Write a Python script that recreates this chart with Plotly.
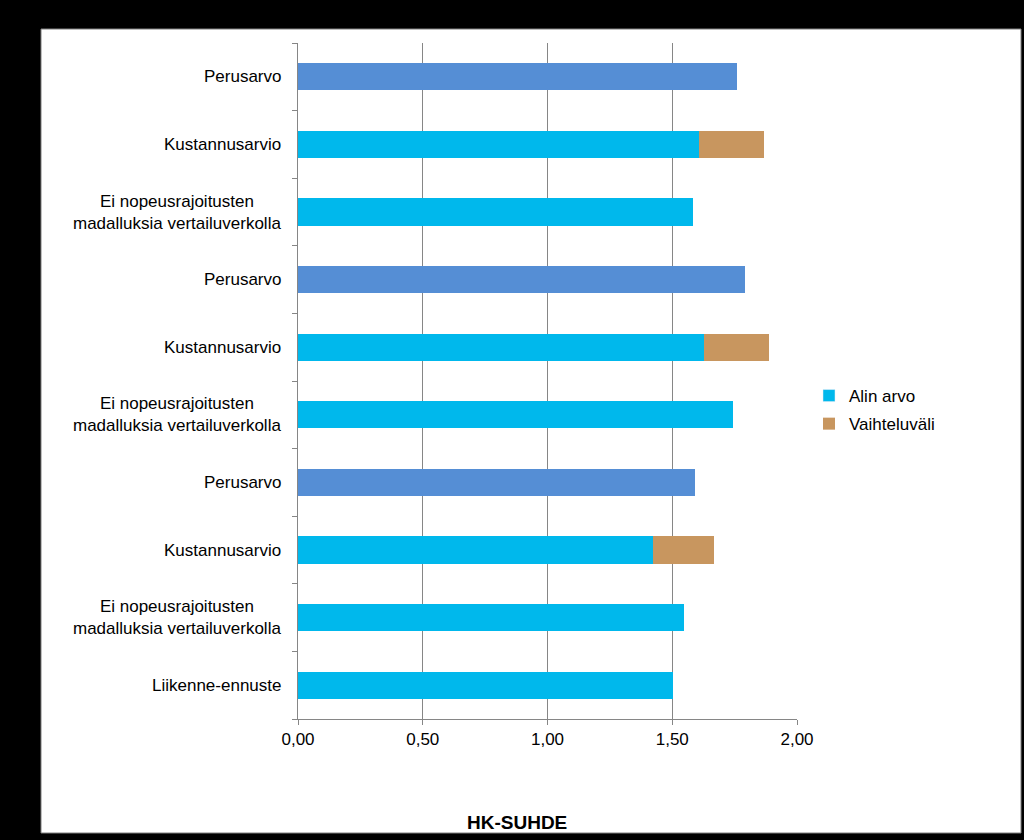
import plotly.graph_objects as go

categories = [
    "Perusarvo",
    "Kustannusarvio",
    "Ei nopeusrajoitusten<br>madalluksia vertailuverkolla",
    "Perusarvo",
    "Kustannusarvio",
    "Ei nopeusrajoitusten<br>madalluksia vertailuverkolla",
    "Perusarvo",
    "Kustannusarvio",
    "Ei nopeusrajoitusten<br>madalluksia vertailuverkolla",
    "Liikenne-ennuste",
]
alin_arvo = [1.76, 1.607, 1.583, 1.79, 1.627, 1.743, 1.59, 1.423, 1.547, 1.503]
vaihteluvali = [None, 0.261, None, None, 0.261, None, None, 0.244, None, None]
x_ticks = [0, 0.5, 1.0, 1.5, 2.0]
x_tick_labels = ["0,00", "0,50", "1,00", "1,50", "2,00"]

BLUE = "#558ED5"
CYAN = "#00B8EC"
TAN = "#C8965F"
FONT = "Liberation Sans, Arial, sans-serif"

pos = list(range(len(categories)))
alin_colors = [BLUE if c == "Perusarvo" else CYAN for c in categories]

fig = go.Figure()
fig.add_trace(go.Bar(
    y=pos, x=alin_arvo, orientation="h", name="Alin arvo", showlegend=False,
    marker=dict(color=alin_colors, line=dict(width=0)), width=0.4,
))
# legend entry for Alin arvo (series colour)
fig.add_trace(go.Bar(y=[None], x=[None], orientation="h", name="Alin arvo",
                     legendgroup="a", marker=dict(color=CYAN)))
fig.add_trace(go.Bar(
    y=pos, x=vaihteluvali, orientation="h", name="Vaihteluväli", legendgroup="b",
    marker=dict(color=TAN, line=dict(width=0)), width=0.4,
))

annotations = []
for i, c in enumerate(categories):
    annotations.append(dict(
        x=-0.03, xref="paper", y=i, yref="y", text=c, showarrow=False,
        xanchor="right", yanchor="middle", align="center",
        font=dict(family=FONT, size=17, color="black"),
    ))
annotations.append(dict(
    x=(517 - 298) / 499, xref="paper", y=(719 - 822) / 676, yref="paper",
    text="<b>HK-SUHDE</b>", showarrow=False, xanchor="center", yanchor="middle",
    font=dict(family=FONT, size=19, color="black"),
))

fig.update_layout(
    width=1024, height=840,
    margin=dict(l=298, r=227, t=43, b=121, pad=0),
    paper_bgcolor="black", plot_bgcolor="white",
    barmode="stack", bargap=0.6,
    font=dict(family=FONT, size=17, color="black"),
    showlegend=True,
    legend=dict(x=(809 - 298) / 499, y=(719 - 378) / 676, xanchor="left", yanchor="top",
                bgcolor="rgba(0,0,0,0)", font=dict(family=FONT, size=17, color="black"),
                itemwidth=30, tracegroupgap=3, traceorder="grouped"),
    annotations=annotations,
    shapes=[dict(type="rect", xref="paper", yref="paper",
                 x0=(41 - 298) / 499, x1=(1021 - 298) / 499,
                 y0=(719 - 833) / 676, y1=(719 - 29) / 676,
                 fillcolor="white", line=dict(color="#7f7f7f", width=1), layer="below")],
)
fig.update_xaxes(
    range=[0, 2.0], tickvals=x_ticks, ticktext=x_tick_labels,
    showgrid=True, gridcolor="#868686", gridwidth=1,
    showline=True, linecolor="#868686", linewidth=1,
    ticks="outside", ticklen=5, tickcolor="#868686",
    tickfont=dict(family=FONT, size=17, color="black"), zeroline=False,
)
fig.update_yaxes(
    range=[9.5, -0.5], tickvals=[i - 0.5 for i in range(len(categories) + 1)],
    showticklabels=False, showgrid=False,
    showline=True, linecolor="#868686", linewidth=1,
    ticks="outside", ticklen=5, tickcolor="#868686", zeroline=False,
)

fig.write_html("out.html", config={"displayModeBar": False},
               post_script="document.body.style.margin='0px';")
